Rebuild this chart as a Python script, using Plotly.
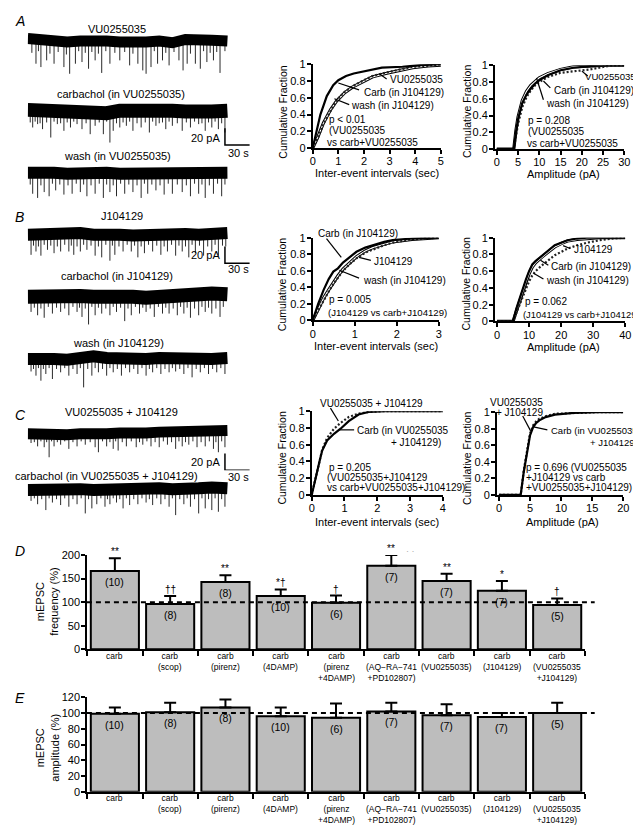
import plotly.graph_objects as go

W, H = 641, 825
FONT = "Liberation Sans, Arial, Helvetica, sans-serif"


def fx(p):
    return p / W


def fy(p):
    return 1 - p / H


# ---------------- electrophysiology traces (time in s, event depth in pA) ----------------
WANDER_T = [0, 16, 32, 48, 64, 80, 96, 112, 128, 144, 160, 176, 192, 208, 224, 243]

A1_w = [3, 1, 0, -1, 0, 1, 0, -1, -2, -1, 0, -2, 2, 3, 1, 0]
A2_w = [2, 1, 0, 2, 1, -4, -2, 1, 2, 1, 0, 1, 0, -1, 0, 1]
A3_w = [1, 2, 1, 0, 1, 2, 1, 0, 0, 1, 0, 0, -1, 0, 0, 1]
B1_w = [0, 1, 0, 1, 2, 0, 1, 0, -1, 0, 1, 2, 1, 0, 1, 2]
B2_w = [0, 1, 1, 2, 1, 0, 1, 2, 0, -1, 0, 0, 2, 5, 4, 3]
B3_w = [0, 1, 0, -1, 2, 3, 1, 0, 1, 0, 1, 0, 2, 1, 0, 1]
C1_w = [0, -1, -2, -1, 0, -1, 0, 1, 0, 1, 2, 3, 2, 3, 3, 4]
C2_w = [0, 1, 2, 0, 1, 0, 1, 2, 0, 1, 2, 1, 0, 2, 3, 2]

A1_t = [10, 16, 23, 32, 44, 51, 58, 66, 74, 82, 90, 100, 112, 124, 134, 140, 144, 150, 158, 164, 172, 184, 189, 194, 204, 210, 218, 226, 234,
        5, 13, 27, 37, 47, 62, 70, 78, 86, 95, 106, 118, 128, 154, 168, 178, 198, 214, 222, 230, 240]
A1_d = [27, 31, 23, 27, 31, 39, 27, 25, 33, 23, 38, 27, 23, 29, 27, 35, 39, 31, 27, 23, 29, 23, 35, 27, 27, 33, 25, 23, 38,
        14, 12, 15, 13, 16, 12, 14, 13, 15, 12, 14, 13, 15, 12, 14, 13, 15, 12, 14, 13, 12]
A2_t = [6, 12, 18, 28, 36, 44, 52, 60, 66, 76, 82, 92, 100, 104, 112, 120, 128, 138, 148, 156, 168, 176, 188, 198, 208, 216, 224, 232, 240,
        3, 9, 15, 23, 32, 40, 48, 56, 71, 87, 96, 108, 116, 124, 133, 143, 152, 160, 164, 172, 182, 193, 203, 212, 220, 228, 236]
A2_d = [19, 15, 21, 31, 15, 23, 19, 15, 21, 27, 17, 27, 37, 23, 19, 17, 23, 19, 25, 17, 21, 17, 23, 19, 15, 23, 19, 21, 25,
        13, 12, 14, 13, 12, 14, 13, 12, 14, 13, 12, 14, 13, 12, 14, 13, 12, 14, 13, 12, 14, 13, 12, 14, 13, 12, 14]
A3_t = [6, 12, 20, 26, 34, 44, 54, 64, 72, 82, 92, 100, 108, 118, 128, 138, 146, 156, 166, 176, 188, 198, 208, 216, 226, 236,
        3, 16, 30, 39, 49, 59, 68, 77, 87, 96, 104, 113, 123, 133, 142, 151, 161, 171, 182, 193, 203, 212, 221, 231, 240]
A3_d = [24, 29, 22, 27, 20, 25, 24, 22, 27, 24, 29, 22, 27, 24, 22, 29, 24, 20, 25, 24, 22, 27, 24, 29, 24, 27,
        13, 14, 12, 13, 14, 12, 13, 14, 12, 13, 14, 12, 13, 14, 12, 13, 14, 12, 13, 14, 12, 13, 14, 12, 13]
B1_t = [4, 10, 16, 24, 32, 40, 50, 56, 64, 72, 82, 90, 100, 106, 116, 126, 134, 142, 152, 162, 170, 180, 188, 196, 204, 214, 224, 232,
        7, 13, 20, 28, 36, 45, 53, 60, 68, 77, 86, 95, 103, 111, 121, 130, 138, 147, 157, 166, 175, 184, 192, 200, 209, 219, 228, 237, 241]
B1_d = [24, 20, 25, 18, 22, 20, 20, 24, 20, 18, 25, 27, 31, 24, 20, 20, 27, 22, 20, 24, 20, 25, 20, 27, 22, 25, 20, 25,
        13, 14, 12, 13, 14, 12, 13, 14, 12, 13, 14, 12, 13, 14, 12, 13, 14, 12, 13, 14, 12, 13, 14, 12, 13, 14, 12, 13, 14]
B2_t = [4, 12, 20, 30, 40, 50, 60, 66, 74, 82, 90, 100, 108, 118, 126, 136, 144, 154, 164, 172, 182, 190, 198, 208, 216, 224, 234,
        8, 16, 25, 35, 45, 55, 63, 70, 78, 86, 95, 104, 113, 122, 131, 140, 149, 159, 168, 177, 186, 194, 203, 212, 220, 229, 238]
B2_d = [18, 22, 25, 20, 18, 22, 18, 24, 33, 22, 20, 22, 18, 29, 22, 20, 18, 24, 20, 20, 22, 20, 25, 22, 18, 20, 24,
        13, 14, 12, 13, 14, 12, 13, 14, 12, 13, 14, 12, 13, 14, 12, 13, 14, 12, 13, 14, 12, 13, 14, 12, 13, 14, 12]
B3_t = [4, 10, 16, 22, 30, 40, 50, 60, 68, 78, 86, 96, 104, 114, 124, 134, 144, 152, 162, 172, 180, 190, 200, 210, 220, 230, 240,
        7, 13, 19, 26, 35, 45, 55, 64, 73, 82, 91, 100, 109, 119, 129, 139, 148, 157, 167, 176, 185, 195, 205, 215, 225, 235]
B3_d = [15, 20, 26, 18, 24, 16, 20, 18, 34, 20, 16, 20, 16, 20, 16, 18, 20, 16, 18, 16, 15, 18, 22, 16, 18, 16, 18,
        12, 11, 12, 11, 12, 11, 12, 11, 12, 11, 12, 11, 12, 11, 12, 11, 12, 11, 12, 11, 12, 11, 12, 11, 12, 11]
C1_t = [4, 12, 20, 26, 32, 40, 50, 60, 70, 82, 86, 96, 104, 110, 120, 132, 140, 150, 160, 170, 180, 188, 196, 206, 216, 226, 232, 240,
        8, 16, 23, 29, 36, 45, 55, 65, 76, 91, 100, 107, 115, 126, 136, 145, 155, 165, 175, 184, 192, 201, 211, 221, 229, 236]
C1_d = [11, 15, 16, 28, 15, 13, 18, 15, 13, 16, 22, 15, 18, 20, 15, 16, 13, 15, 16, 13, 18, 15, 13, 16, 15, 18, 22, 16,
        10, 9, 10, 9, 10, 9, 10, 9, 10, 9, 10, 9, 10, 9, 10, 9, 10, 9, 10, 9, 10, 9, 10, 9, 10, 9]
C2_t = [4, 12, 22, 30, 40, 50, 60, 70, 78, 84, 94, 100, 108, 116, 124, 134, 144, 152, 162, 172, 180, 190, 198, 208, 216, 224, 232, 240,
        8, 17, 26, 35, 45, 55, 65, 74, 89, 97, 104, 112, 120, 129, 139, 148, 157, 167, 176, 185, 194, 203, 212, 220, 228, 236]
C2_d = [13, 17, 24, 15, 18, 20, 17, 28, 22, 17, 20, 17, 15, 22, 18, 17, 15, 18, 17, 20, 30, 17, 20, 28, 22, 24, 26, 20,
        10, 11, 10, 11, 10, 11, 10, 11, 10, 11, 10, 11, 10, 11, 10, 11, 10, 11, 10, 11, 10, 11, 10, 11, 10, 11]

TRACE_TITLES = ["VU0255035", "carbachol (in VU0255035)", "wash (in VU0255035)",
                "J104129", "carbachol (in J104129)", "wash (in J104129)",
                "VU0255035 + J104129", "carbachol (in VU0255035 + J104129)"]
SCALE_PA = 20
SCALE_S = 30

# ---------------- cumulative distributions ----------------
AI_carb_x = [0, 0.15, 0.3, 0.55, 0.8, 1.0, 1.3, 1.6, 2.2, 2.7, 3.5, 4.2, 5]
AI_carb_y = [0, 0.2, 0.4, 0.62, 0.75, 0.81, 0.86, 0.89, 0.93, 0.96, 0.97, 0.99, 1.0]
AI_x = [0, 0.2, 0.42, 0.7, 0.93, 1.25, 1.57, 2.0, 2.34, 2.85, 3.4, 3.9, 4.5, 5]
AI_drug_y = [0, 0.13, 0.3, 0.46, 0.56, 0.66, 0.73, 0.8, 0.85, 0.89, 0.93, 0.96, 0.98, 0.99]
AI_wash_y = [0, 0.12, 0.29, 0.45, 0.57, 0.67, 0.74, 0.81, 0.86, 0.9, 0.94, 0.97, 0.98, 1.0]

AA_x = [0, 4, 4.5, 5, 6, 7, 8, 9, 10, 12, 15, 18, 22, 26, 30]
AA_carb_y = [0, 0, 0.2, 0.36, 0.55, 0.65, 0.72, 0.78, 0.82, 0.88, 0.94, 0.97, 0.99, 1, 1]
AA_drug_y = [0, 0, 0.22, 0.38, 0.58, 0.69, 0.76, 0.81, 0.85, 0.9, 0.95, 0.98, 0.99, 1, 1]
AA_wash_y = [0, 0, 0.15, 0.3, 0.5, 0.62, 0.7, 0.76, 0.8, 0.86, 0.91, 0.93, 0.95, 0.99, 1]

BI_x = [0, 0.13, 0.26, 0.38, 0.49, 0.6, 0.72, 0.88, 1.04, 1.25, 1.43, 1.7, 1.9, 2.36, 3]
BI_carb_y = [0, 0.2, 0.37, 0.5, 0.59, 0.63, 0.7, 0.77, 0.83, 0.88, 0.91, 0.95, 0.97, 0.99, 1]
BI_drug_y = [0, 0.14, 0.27, 0.37, 0.46, 0.54, 0.62, 0.7, 0.77, 0.84, 0.88, 0.92, 0.95, 0.98, 1]
BI_wash_y = [0, 0.12, 0.25, 0.35, 0.44, 0.52, 0.6, 0.68, 0.75, 0.82, 0.86, 0.91, 0.94, 0.98, 1]

BA_x = [0, 5, 6, 7, 8, 9, 10, 11, 12, 14, 16, 18, 20, 22, 25, 28, 32, 36, 40]
BA_carb_y = [0, 0, 0.15, 0.27, 0.4, 0.5, 0.6, 0.68, 0.72, 0.78, 0.84, 0.91, 0.94, 0.97, 0.99, 1, 1, 1, 1]
BA_drug_y = [0, 0, 0.12, 0.24, 0.36, 0.47, 0.57, 0.65, 0.7, 0.77, 0.83, 0.89, 0.93, 0.96, 0.98, 0.99, 1, 1, 1]
BA_wash_y = [0, 0, 0.1, 0.2, 0.3, 0.4, 0.48, 0.55, 0.6, 0.67, 0.73, 0.79, 0.83, 0.87, 0.91, 0.94, 0.97, 0.99, 1]

CI_x = [0, 0.1, 0.17, 0.25, 0.32, 0.47, 0.68, 0.88, 1.13, 1.43, 1.73, 2.24, 3, 4]
CI_drug_y = [0, 0.18, 0.29, 0.42, 0.53, 0.65, 0.73, 0.79, 0.88, 0.96, 0.99, 1, 1, 1]
CI_carb_y = [0, 0.16, 0.28, 0.42, 0.54, 0.68, 0.79, 0.86, 0.93, 0.97, 0.99, 1, 1, 1]

CA_x = [0, 3.5, 4, 4.5, 5, 5.5, 6, 6.5, 7.5, 9, 12, 16, 20]
CA_drug_y = [0, 0, 0.28, 0.52, 0.72, 0.82, 0.87, 0.9, 0.94, 0.97, 0.99, 1, 1]
CA_carb_y = [0, 0, 0.3, 0.55, 0.74, 0.84, 0.89, 0.92, 0.95, 0.98, 0.99, 1, 1]

# ---------------- bar charts ----------------
CATS = ["carb", "carb<br>(scop)", "carb<br>(pirenz)", "carb<br>(4DAMP)", "carb<br>(pirenz<br>+4DAMP)",
        "carb<br>(AQ\u2212RA\u2212741<br>+PD102807)", "carb<br>(VU0255035)", "carb<br>(J104129)",
        "carb<br>(VU0255035<br>+J104129)"]
N_LABELS = ["(10)", "(8)", "(8)", "(10)", "(6)", "(7)", "(7)", "(7)", "(5)"]
SIG = ["**", "\u2020\u2020", "**", "*\u2020", "\u2020", "**", "**", "*", "\u2020"]
FREQ = [166, 96, 143, 113, 99, 177, 145, 124, 94]
FREQ_ERR = [27, 17, 14, 14, 15, 23, 15, 21, 14]
AMP = [99, 101, 107, 96, 94, 102, 97, 95, 100]
AMP_ERR = [8, 12, 10, 11, 18, 11, 14, 5, 13]

# =====================================================================
fig = go.Figure()
layout = dict(width=W, height=H, margin=dict(l=0, r=0, t=0, b=0), showlegend=False,
              paper_bgcolor="white", plot_bgcolor="white",
              font=dict(family=FONT, size=11, color="black"))
annotations = []
shapes = []


def T(text, x, y, xanchor="left", size=10, yanchor="middle", **kw):
    d = dict(text=text, x=fx(x), y=fy(y), xref="paper", yref="paper", xanchor=xanchor,
             yanchor=yanchor, showarrow=False, font=dict(size=size, family=FONT, color="black"))
    d.update(kw)
    annotations.append(d)


def L(x0, y0, x1, y1, w=1.2):
    shapes.append(dict(type="line", xref="paper", yref="paper", x0=fx(x0), y0=fy(y0),
                       x1=fx(x1), y1=fy(y1), line=dict(color="black", width=w)))


# ---- trace panels ----
PX_PER_S = 25 / 30.0
PX_PER_PA = 0.85
layout["xaxis"] = dict(domain=[fx(17), fx(245)], range=[0, 228 / PX_PER_S], visible=False, fixedrange=True)
trace_sets = [(A1_w, A1_t, A1_d, 27.5, 11), (A2_w, A2_t, A2_d, 99, 14), (A3_w, A3_t, A3_d, 162, 12),
              (B1_w, B1_t, B1_d, 224, 12), (B2_w, B2_t, B2_d, 287, 14), (B3_w, B3_t, B3_d, 350, 12),
              (C1_w, C1_t, C1_d, 426, 11), (C2_w, C2_t, C2_d, 483, 12)]
for i, (wand, st, sd, cpx, bw) in enumerate(trace_sets):
    yname = "yaxis" if i == 0 else f"yaxis{i + 1}"
    yref = "y" if i == 0 else f"y{i + 1}"
    layout[yname] = dict(domain=[fy(cpx + 40), fy(cpx - 20)], range=[-40 / PX_PER_PA, 20 / PX_PER_PA],
                         visible=False, anchor="x", fixedrange=True)
    xs, ys = [], []
    for t, d in zip(st, sd):
        xs += [t, t, None]
        ys += [0, -d, None]
    fig.add_trace(go.Scatter(x=xs, y=ys, xaxis="x", yaxis=yref, mode="lines",
                             line=dict(color="#2a2a2a", width=1), hoverinfo="skip"))
    fig.add_trace(go.Scatter(x=WANDER_T, y=wand, xaxis="x", yaxis=yref, mode="lines",
                             line=dict(color="black", width=bw), hoverinfo="skip"))

# scale bars (in the axes of A2, B1, C1)
for yref, y_bottom in [("y2", -40), ("y4", -34), ("y7", -43.5)]:
    fig.add_trace(go.Scatter(x=[240, 240, 240 + SCALE_S], y=[y_bottom + SCALE_PA, y_bottom, y_bottom],
                             xaxis="x", yaxis=yref, mode="lines", line=dict(color="black", width=1.5),
                             hoverinfo="skip"))
for ylab, yt in [(126, 141), (245, 259), (455, 470)]:
    T(f"{SCALE_PA} pA", 214, ylab, xanchor="right", size=11)
    T(f"{SCALE_S} s", 231, yt, xanchor="center", size=11)

for title, (xc, yc) in zip(TRACE_TITLES, [(108, 15), (112, 81), (108, 144), (113, 205), (108, 266),
                                          (109, 334), (112, 404), (97, 469)]):
    T(title, xc, yc, xanchor="center", size=11)

# panel letters
for lt, (x, y) in zip("ABCDE", [(2, 7), (2, 206), (2, 407), (2, 545), (2, 694)]):
    T(f"<i>{lt}</i>", x, y, size=14)

# ---- cumulative panels ----
AX = dict(showline=True, linecolor="black", linewidth=2, ticks="outside", ticklen=4, tickwidth=1.5,
          tickcolor="black", showgrid=False, zeroline=False, fixedrange=True,
          tickfont=dict(size=11, family=FONT, color="black"))
YT = [0, 0.2, 0.4, 0.6, 0.8, 1]
YTT = ["0", "0.2", "0.4", "0.6", "0.8", "1"]


def cum_axes(n, m, xpx, ypx, xr, xticks):
    layout[f"xaxis{n}"] = dict(AX, domain=[fx(xpx[0]), fx(xpx[1])], range=xr, anchor=f"y{m}",
                               tickvals=xticks, ticktext=[str(v) for v in xticks], ticklabelstandoff=-2)
    layout[f"yaxis{m}"] = dict(AX, domain=[fy(ypx[1]), fy(ypx[0])], range=[0, 1], anchor=f"x{n}",
                               tickvals=YT, ticktext=YTT, ticklabelstandoff=-1)


def thick(x, y, n, m):
    fig.add_trace(go.Scatter(x=x, y=y, xaxis=f"x{n}", yaxis=f"y{m}", mode="lines",
                             line=dict(color="black", width=2.2), hoverinfo="skip"))


def hollow(x, y, n, m):
    fig.add_trace(go.Scatter(x=x, y=y, xaxis=f"x{n}", yaxis=f"y{m}", mode="lines",
                             line=dict(color="black", width=3.2), hoverinfo="skip"))
    fig.add_trace(go.Scatter(x=x, y=y, xaxis=f"x{n}", yaxis=f"y{m}", mode="lines",
                             line=dict(color="white", width=1.2), hoverinfo="skip"))


def dotted(x, y, n, m):
    fig.add_trace(go.Scatter(x=x, y=y, xaxis=f"x{n}", yaxis=f"y{m}", mode="lines",
                             line=dict(color="#222", width=2.2, dash="2px,2px"), hoverinfo="skip"))


cum_axes(2, 9, (306, 436), (51, 136), [0, 5], [0, 1, 2, 3, 4, 5])
hollow(AI_x, AI_drug_y, 2, 9)
dotted(AI_x, AI_wash_y, 2, 9)
thick(AI_carb_x, AI_carb_y, 2, 9)

cum_axes(3, 10, (491, 622), (52, 137), [-0.4, 30], [0, 5, 10, 15, 20, 25, 30])
hollow(AA_x, AA_drug_y, 3, 10)
dotted(AA_x, AA_wash_y, 3, 10)
thick(AA_x, AA_carb_y, 3, 10)

cum_axes(4, 11, (306, 434), (227, 311), [0, 3], [0, 1, 2, 3])
hollow(BI_x, BI_drug_y, 4, 11)
dotted(BI_x, BI_wash_y, 4, 11)
thick(BI_x, BI_carb_y, 4, 11)

cum_axes(5, 12, (491, 623), (227, 312), [-0.6, 40], [0, 10, 20, 30, 40])
hollow(BA_x, BA_drug_y, 5, 12)
dotted(BA_x, BA_wash_y, 5, 12)
thick(BA_x, BA_carb_y, 5, 12)

cum_axes(6, 13, (305, 438), (403, 488), [0, 4], [0, 1, 2, 3, 4])
dotted(CI_x, CI_carb_y, 6, 13)
thick(CI_x, CI_drug_y, 6, 13)

cum_axes(7, 14, (493, 621), (404, 488), [-0.3, 20], [0, 5, 10, 15, 20])
dotted(CA_x, CA_carb_y, 7, 14)
thick(CA_x, CA_drug_y, 7, 14)

# axis titles
for xc, ymid in [(275, 99), (275, 274), (275, 450)]:
    T("Cumulative Fraction", xc, ymid, xanchor="center", size=10.5, textangle=-90)
for xc, ymid in [(462, 99), (462, 274), (463, 450)]:
    T("Cumulative Fraction", xc, ymid, xanchor="center", size=10.5, textangle=-90)
for xc, yc in [(371, 161), (370, 337), (371, 515)]:
    T("Inter-event intervals (sec)", xc, yc, xanchor="center", size=11)
for xc, yc in [(560, 162), (560, 338), (559, 515)]:
    T("Amplitude (pA)", xc, yc, xanchor="center", size=11)

# curve labels & p-values
T("VU0255035", 382, 66); L(374, 61, 381, 66)
T("Carb (in J104129)", 356, 80); L(332, 70, 353, 77)
T("wash (in J104129)", 343, 93); L(328, 86, 343, 92)
T("p &lt; 0.01", 320, 107); T("(VU0255035", 320, 118); T("vs carb+VU0255035", 318, 130)

T("VU0255035", 636, 63, xanchor="right", size=9.6); L(579, 58, 585, 63)
T("Carb (in J104129)", 549, 78); L(540, 68, 547, 75)
T("wash (in J104129)", 541, 91); L(533, 65, 540, 87)
T("p = 0.208", 522, 108); T("(VU0255035", 522, 119); T("vs carb+VU0255035", 521, 131)

T("Carb (in J104129)", 309, 223); L(320, 228, 335, 247)
T("J104129", 366, 251); L(353, 247, 365, 250)
T("wash (in J104129)", 355, 270); L(333, 260, 353, 268)
T("p = 0.005", 320, 290); T("(J104129 vs carb+J104129)", 319, 303, size=9.6)

T("J104129", 569, 239); L(560, 235, 567, 238)
T("Carb (in J104129)", 546, 256); L(537, 250, 545, 255)
T("wash (in J104129)", 541, 270); L(530, 263, 540, 269)
T("p = 0.062", 519, 292); T("(J104129 vs carb+J104129)", 517, 305, size=9.4)

T("VU0255035 + J104129", 311, 395); L(324, 400, 332, 413)
T("Carb (in VU0255035", 349, 423); L(333, 422, 348, 422)
T("+ J104129)", 438, 435, xanchor="right")
T("p = 0.205", 320, 460); T("(VU0255035+J104129", 318, 470); T("vs carb+VU0255035+J104129)", 318, 480)

T("VU0255035", 542, 394, xanchor="right"); T("+ J104129", 542, 404, xanchor="right")
L(519, 408, 527, 423)
T("Carb (in VU0255035", 546, 423, size=9.5); L(530, 419, 544, 422)
T("+ J104129)", 638, 435, xanchor="right", size=9.5)
T("p = 0.696 (VU0255035", 520, 460); T("+J104129 vs carb", 520, 470); T("+VU0255035+J104129)", 520, 480)

# ---- bar panels ----
BX = dict(AX, type="category", tickson="boundaries", ticklen=5, tickwidth=2, tickangle=0,
          range=[-0.5, 8.5], showticklabels=False)
D_AXIS_PX, E_AXIS_PX = 644.7, 789.3
layout["xaxis8"] = dict(BX, domain=[fx(77.3), fx(582)], anchor="y15")
layout["yaxis15"] = dict(AX, domain=[fy(D_AXIS_PX), fy(549)], range=[0, 200], anchor="x8",
                         tickvals=[0, 50, 100, 150, 200], tickwidth=2, ticklabelstandoff=-1)
layout["xaxis9"] = dict(BX, domain=[fx(77.3), fx(582)], anchor="y16")
layout["yaxis16"] = dict(AX, domain=[fy(E_AXIS_PX), fy(693.3)], range=[0, 120], anchor="x9",
                         tickvals=[0, 20, 40, 60, 80, 100, 120], tickwidth=2, ticklabelstandoff=-1)

for xa, ya, vals, errs, axis_px in [("x8", "y15", FREQ, FREQ_ERR, D_AXIS_PX),
                                    ("x9", "y16", AMP, AMP_ERR, E_AXIS_PX)]:
    fig.add_trace(go.Bar(x=CATS, y=vals, xaxis=xa, yaxis=ya, width=0.87,
                         marker=dict(color="#bdbdbd", line=dict(color="black", width=2)),
                         error_y=dict(type="data", array=errs, arrayminus=[0] * len(errs), symmetric=False,
                                      color="black", thickness=2, width=6),
                         hoverinfo="skip"))
    shapes.append(dict(type="line", xref="paper", yref=ya, x0=fx(77), x1=fx(592), y0=100, y1=100,
                       line=dict(color="black", width=2, dash="5px,4px")))
    for c, v, n in zip(CATS, vals, N_LABELS):
        annotations.append(dict(text=n, x=c, y=v, xref=xa, yref=ya, yshift=-11, showarrow=False,
                                yanchor="middle", font=dict(size=10.5, family=FONT, color="black")))
    for c in CATS:
        annotations.append(dict(text=c, x=c, y=fy(axis_px + 0.5), xref=xa, yref="paper", yanchor="top",
                                showarrow=False, borderpad=0,
                                font=dict(size=8.5, family=FONT, color="black")))

for c, v, e, s in zip(CATS, FREQ, FREQ_ERR, SIG):
    annotations.append(dict(text=s, x=c, y=v + e, xref="x8", yref="y15", yanchor="bottom", yshift=-1,
                            showarrow=False, font=dict(size=10, family=FONT, color="black")))
T("\u00b7 \u00b7", 405, 545, xanchor="center", size=9, font=dict(size=9, family=FONT, color="#aaaaaa"))

T("mEPSC<br>frequency (%)", 37, 596, xanchor="center", size=11, textangle=-90)
T("mEPSC<br>amplitude (%)", 37, 744, xanchor="center", size=11, textangle=-90)

layout["annotations"] = annotations
layout["shapes"] = shapes
fig.update_layout(**layout)
fig.write_html("out.html")
